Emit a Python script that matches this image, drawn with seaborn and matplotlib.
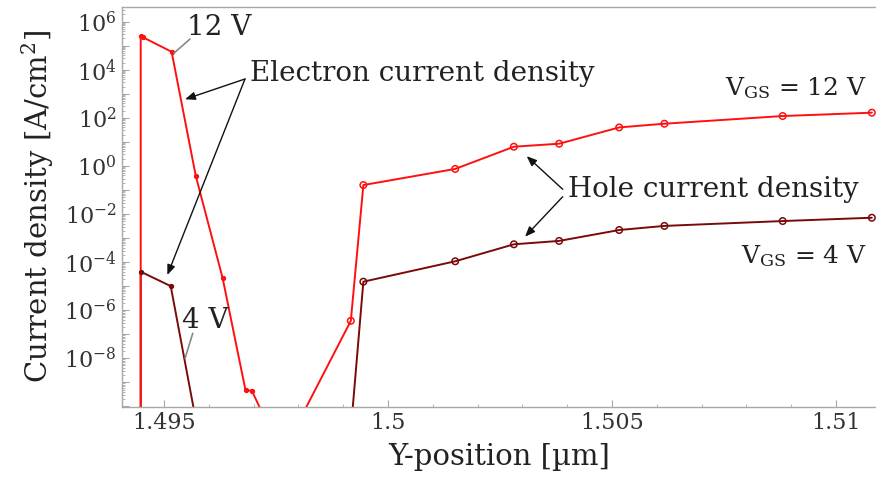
import numpy as np
import pandas as pd
import matplotlib
matplotlib.use("Agg")
import matplotlib.pyplot as plt
import matplotlib.ticker as mticker
import seaborn as sns

# ---------------- data ----------------
# V_GS = 12 V : electron part (incl. points below the visible range)
x12_e = [1.49448, 1.49448, 1.49454, 1.49517, 1.49571, 1.49631, 1.49682, 1.49696]
j12_e = [1e-14, 2.5e5, 2.2e5, 5.6e4, 3.8e-1, 2.1e-5, 4.6e-10, 4.5e-10]
# V_GS = 12 V : hole part
x12_h = [1.49763, 1.49917, 1.49945, 1.50150, 1.50281, 1.50382, 1.50516, 1.50617, 1.50881, 1.51080]
j12_h = [1e-12, 3.6e-7, 1.6e-1, 7.5e-1, 6.3, 8.4, 40, 57, 119, 164]

# V_GS = 4 V : electron part
x4_e = [1.49448, 1.49448, 1.49515, 1.49631]
j4_e = [1e-16, 4.0e-5, 1.0e-5, 3e-17]
# V_GS = 4 V : hole part
x4_h = [1.49917, 1.49945, 1.50150, 1.50281, 1.50382, 1.50516, 1.50617, 1.50881, 1.51080]
j4_h = [1e-11, 1.53e-5, 1.08e-4, 5.5e-4, 7.6e-4, 2.16e-3, 3.2e-3, 5.1e-3, 7.0e-3]

xticks = [1.495, 1.5, 1.505, 1.51]
xticklabels = ["1.495", "1.5", "1.505", "1.51"]

# ---------------- style ----------------
sns.set_theme(style="ticks")
plt.rcParams["font.family"] = ["DejaVu Serif"]
plt.rcParams["mathtext.fontset"] = "dejavuserif"

C12 = "#ff1010"
C4 = "#7a0a0a"
TXT = "#222222"
GRID = "#a8a8a8"

fig = plt.figure(figsize=(8.76, 4.78), dpi=100)
ax = fig.add_axes([0.1393, 0.14916, 0.8607, 0.8362])
ax.set_yscale("log")

def curve(xe, je, xh, jh, color):
    df = pd.DataFrame({"x": list(xe) + list(xh), "j": list(je) + list(jh)})
    sns.lineplot(data=df, x="x", y="j", sort=False, estimator=None,
                 color=color, lw=1.4, ax=ax)
    sns.scatterplot(x=xe, y=je, marker="o", s=9, color=color,
                    edgecolor=color, linewidth=0.8, ax=ax, zorder=3)
    sns.scatterplot(x=xh, y=jh, marker="o", s=22, facecolor="none",
                    edgecolor=color, linewidth=1.1, ax=ax, zorder=3)

curve(x4_e, j4_e, x4_h, j4_h, C4)
curve(x12_e, j12_e, x12_h, j12_h, C12)

ax.set_xlim(1.494063, 1.510893)
ax.set_ylim(10 ** -10.015, 10 ** 6.611)

# ticks
ax.set_xticks(xticks)
ax.set_xticklabels(xticklabels)
ax.xaxis.set_minor_locator(mticker.MultipleLocator(0.001))
ax.yaxis.set_major_locator(mticker.FixedLocator([10.0 ** k for k in range(-10, 7)]))

def ylab(v, p):
    k = int(round(np.log10(v)))
    if k % 2 or k <= -10:
        return ""
    return r"$10^{%d}$" % k

ax.yaxis.set_major_formatter(mticker.FuncFormatter(ylab))
ax.yaxis.set_minor_locator(mticker.LogLocator(base=10, subs=np.arange(2, 10), numticks=100))
ax.yaxis.set_minor_formatter(mticker.NullFormatter())

ax.tick_params(which="both", direction="in", color=GRID, labelcolor="#333333")
ax.tick_params(which="major", length=5, width=0.8, labelsize=16, pad=4)
ax.tick_params(which="minor", length=2.5, width=0.6)
for s in ["left", "bottom", "top"]:
    ax.spines[s].set_color(GRID)
    ax.spines[s].set_linewidth(1.0)
ax.spines["right"].set_visible(False)
ax.tick_params(top=False, right=False)

ax.set_xlabel("Y-position [µm]", fontsize=21, color=TXT, labelpad=6)
ax.set_ylabel("Current density [A/cm$^2$]", fontsize=21, color=TXT, labelpad=6)

# ---------------- annotations ----------------
T = dict(xycoords="axes fraction", textcoords="axes fraction")
ax.text(0.1698, 0.814, "Electron current density", transform=ax.transAxes,
        fontsize=20, color=TXT, ha="left", va="baseline")
arr = dict(arrowstyle="-|>,head_length=0.5,head_width=0.2", color="#111111", lw=1.0,
           shrinkA=0, shrinkB=0)
ax.annotate("", xy=(0.0836, 0.7691), xytext=(0.1631, 0.8199), arrowprops=arr, **T)
ax.annotate("", xy=(0.0601, 0.3295), xytext=(0.1631, 0.8199), arrowprops=arr, **T)

ax.text(0.0858, 0.930, "12 V", transform=ax.transAxes, fontsize=20, color=TXT,
        ha="left", va="baseline")
ln = dict(arrowstyle="-", color="#888888", lw=1.2, shrinkA=0, shrinkB=0)
ax.annotate("", xy=(0.0690, 0.8849), xytext=(0.0902, 0.9199), arrowprops=ln, **T)

ax.text(0.0792, 0.1969, "4 V", transform=ax.transAxes, fontsize=20, color=TXT,
        ha="left", va="baseline")
ax.annotate("", xy=(0.0836, 0.1211), xytext=(0.0938, 0.1836), arrowprops=ln, **T)

ax.text(0.5915, 0.5246, "Hole current density", transform=ax.transAxes,
        fontsize=20, color=TXT, ha="left", va="baseline")
ax.annotate("", xy=(0.5367, 0.6268), xytext=(0.5845, 0.5439), arrowprops=arr, **T)
ax.annotate("", xy=(0.5345, 0.4253), xytext=(0.5845, 0.5254), arrowprops=arr, **T)

ax.text(0.988, 0.7798, r"V$_{\mathrm{GS}}$ = 12 V", transform=ax.transAxes,
        fontsize=18, color=TXT, ha="right", va="baseline")
ax.text(0.988, 0.3595, r"V$_{\mathrm{GS}}$ = 4 V", transform=ax.transAxes,
        fontsize=18, color=TXT, ha="right", va="baseline")

fig.savefig("out.png", dpi=100)
